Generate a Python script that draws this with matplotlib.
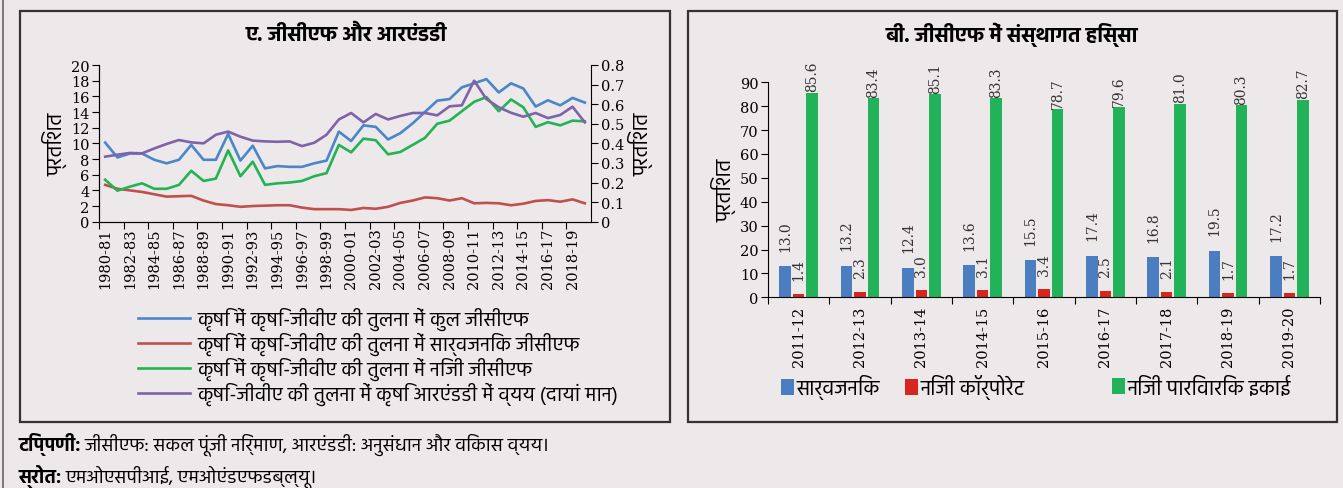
import numpy as np
import matplotlib
matplotlib.use("Agg")
import matplotlib.pyplot as plt
from matplotlib import font_manager, ft2font
from matplotlib.patches import Rectangle
from matplotlib.lines import Line2D

# pick a font that can draw Devanagari
have = set()
for f in font_manager.fontManager.ttflist:
    try:
        if 0x0915 in ft2font.FT2Font(f.fname).get_charmap():
            have.add(f.name)
    except Exception:
        pass
deva = None
for name in ['Hind', 'Mukta', 'Ek Mukta', 'Noto Sans Devanagari', 'Poppins']:
    if name in have:
        deva = name
        break
if deva is None and have:
    deva = sorted(have)[0]
plt.rcParams['font.family'] = [deva, 'DejaVu Sans'] if deva else ['DejaVu Sans']

# ---- data, panel A (share of agri-GVA, per cent) ----
years = [f"{y}-{(y + 1) % 100:02d}" for y in range(1980, 2020)]
total_gcf = [10.1, 8.2, 8.7, 8.7, 7.9, 7.45, 7.9, 9.8, 7.9, 7.9,
             11.2, 7.8, 9.7, 6.8, 7.1, 7.0, 7.0, 7.45, 7.8, 11.5,
             10.3, 12.3, 12.1, 10.5, 11.3, 12.55, 14.0, 15.45, 15.65, 17.15,
             17.66, 18.2, 16.5, 17.66, 17.0, 14.7, 15.5, 14.85, 15.8, 15.2]
public_gcf = [4.7, 4.2, 4.0, 3.8, 3.5, 3.2, 3.25, 3.3, 2.7, 2.25,
              2.1, 1.9, 2.0, 2.05, 2.1, 2.1, 1.8, 1.6, 1.6, 1.6,
              1.5, 1.75, 1.65, 1.9, 2.4, 2.7, 3.1, 3.0, 2.7, 3.0,
              2.35, 2.4, 2.35, 2.1, 2.3, 2.65, 2.75, 2.55, 2.85, 2.35]
private_gcf = [5.36, 3.96, 4.47, 4.9, 4.2, 4.2, 4.7, 6.5, 5.2, 5.5,
               9.1, 5.8, 7.66, 4.7, 4.9, 5.0, 5.2, 5.8, 6.2, 9.8,
               8.85, 10.6, 10.4, 8.6, 8.9, 9.8, 10.7, 12.5, 12.9, 14.1,
               15.3, 15.9, 14.1, 15.6, 14.6, 12.1, 12.7, 12.3, 12.9, 12.8]
rnd = [0.332, 0.342, 0.351, 0.349, 0.374, 0.397, 0.417, 0.405, 0.40, 0.444,
       0.46, 0.434, 0.414, 0.41, 0.408, 0.41, 0.386, 0.403, 0.444, 0.522,
       0.555, 0.507, 0.55, 0.522, 0.54, 0.555, 0.555, 0.543, 0.589, 0.594,
       0.72, 0.626, 0.584, 0.556, 0.536, 0.555, 0.529, 0.545, 0.587, 0.507]
line_names = ["कृषि में कृषि-जीवीए की तुलना में कुल जीसीएफ",
              "कृषि में कृषि-जीवीए की तुलना में सार्वजनिक जीसीएफ",
              "कृषि में कृषि-जीवीए की तुलना में निजी जीसीएफ",
              "कृषि-जीवीए की तुलना में कृषि आरएंडडी में व्यय (दायां मान)"]

# ---- data, panel B (institutional share of GCF, per cent) ----
bar_years = ["2011-12", "2012-13", "2013-14", "2014-15", "2015-16",
             "2016-17", "2017-18", "2018-19", "2019-20"]
public_share = [13.0, 13.2, 12.4, 13.6, 15.5, 17.4, 16.8, 19.5, 17.2]
corporate_share = [1.4, 2.3, 3.0, 3.1, 3.4, 2.5, 2.1, 1.7, 1.7]
household_share = [85.6, 83.4, 85.1, 83.3, 78.7, 79.6, 81.0, 80.3, 82.7]
bar_names = ["सार्वजनिक", "निजी कॉर्पोरेट", "निजी पारिवारिक इकाई"]

bg = '#EDE8EA'
W, H = 1343, 489
num_font = 'DejaVu Serif'


def fx(x):
    return x / W


def fy(y):
    return 1 - y / H


fig = plt.figure(figsize=(W / 100, H / 100), dpi=100, facecolor=bg)
renderer = fig.canvas.get_renderer()


def width_px(s, size, weight='normal'):
    t = fig.text(0, 0, s, fontsize=size, fontweight=weight)
    w = t.get_window_extent(renderer).width
    t.remove()
    return w


# scale all Hindi text so the longest legend entry is as wide as in the reference
k = 414 / width_px(line_names[3], 12)
fs_leg = 12 * k
fs_title = min(12 * 202 / width_px("ए. जीसीएफ और आरएंडडी", 12, 'bold'), 15)
fs_note = fs_leg * 0.95
fs_lab = fs_leg * 1.05

# panel frames
fig.add_artist(Line2D([fx(3), fx(3)], [0, 1], color='#666666', lw=1.2))
fig.add_artist(Rectangle((fx(20), fy(423)), fx(670) - fx(20), fy(12) - fy(423),
                         transform=fig.transFigure, fill=False, ec='#333333', lw=1.6))
fig.add_artist(Rectangle((fx(688), fy(423)), fx(1337) - fx(688), fy(12) - fy(423),
                         transform=fig.transFigure, fill=False, ec='#333333', lw=1.6))

# ---------------- panel A ----------------
ax = fig.add_axes([fx(99), fy(222.7), fx(591) - fx(99), (222.7 - 66) / H])
ax.set_facecolor(bg)
x = np.arange(len(years)) + 0.5
l1, = ax.plot(x, total_gcf, color='#4A86C8', lw=1.9)
l2, = ax.plot(x, public_gcf, color='#C0504D', lw=1.9)
l3, = ax.plot(x, private_gcf, color='#22B355', lw=1.9)
ax.set_xlim(0, len(years))
ax.set_ylim(0, 20)
ax.set_yticks(range(0, 21, 2))
ax.set_xticks(range(0, len(years), 2))
ax.set_xticklabels([])
ax.set_xticks(x[::2], minor=True)
ax.set_xticklabels(years[::2], minor=True, rotation=90, family=num_font, fontsize=10.5)
ax.tick_params(axis='x', which='minor', length=0, pad=4)
ax.tick_params(axis='x', which='major', length=5, direction='out')
ax.tick_params(axis='y', length=5, direction='out', labelsize=10.5, pad=2)
for t in ax.get_yticklabels():
    t.set_family(num_font)
ax.spines['top'].set_visible(False)
ax.spines['right'].set_visible(False)
ax.set_ylabel("प्रतिशत", fontsize=fs_lab, labelpad=2)

ax2 = ax.twinx()
l4, = ax2.plot(x, rnd, color='#7E62AA', lw=1.9)
ax2.set_ylim(0, 0.8)
ax2.set_yticks(np.arange(0, 0.81, 0.1))
ax2.set_yticklabels(['0'] + [f"{v:.1f}" for v in np.arange(0.1, 0.81, 0.1)],
                    family=num_font, fontsize=10.5)
ax2.tick_params(axis='y', length=5, direction='out', pad=2)
ax2.spines['top'].set_visible(False)
ax2.set_ylabel("प्रतिशत", fontsize=fs_lab, labelpad=3)
fig.text(fx(346), fy(35), "ए. जीसीएफ और आरएंडडी", ha='center', va='center',
         fontsize=fs_title, fontweight='bold')

hl = 52 / (fs_leg * 100 / 72)
fig.legend([l1, l2, l3, l4], line_names, loc='upper left',
           bbox_to_anchor=(fx(138), fy(308)), frameon=False, fontsize=fs_leg,
           handlelength=hl, handletextpad=0.35, labelspacing=0.08,
           borderaxespad=0, borderpad=0)

# ---------------- panel B ----------------
bx = fig.add_axes([fx(768), fy(298.3), fx(1320) - fx(768), (298.3 - 83.3) / H])
bx.set_facecolor(bg)
xb = np.arange(len(bar_years))
w = 0.19
b1 = bx.bar(xb - 0.22, public_share, w, color='#4A7EC0')
b2 = bx.bar(xb, corporate_share, w, color='#D7261E')
b3 = bx.bar(xb + 0.22, household_share, w, color='#22B35A')
for bars, vals, off in [(b1, public_share, 11), (b2, corporate_share, 10),
                        (b3, household_share, 1)]:
    for r, v in zip(bars, vals):
        bx.annotate(f"{v:.1f}", (r.get_x() + r.get_width() / 2, r.get_height()),
                    xytext=(0, off), textcoords='offset points', rotation=90,
                    ha='center', va='bottom', fontsize=10, family=num_font,
                    color='#333333', annotation_clip=False)
bx.set_xlim(-0.5, len(bar_years) - 0.5)
bx.set_ylim(0, 90)
bx.set_yticks(range(0, 91, 10))
bx.set_xticks(np.arange(len(bar_years) + 1) - 0.5)
bx.set_xticklabels([])
bx.set_xticks(xb, minor=True)
bx.set_xticklabels(bar_years, minor=True, rotation=90, family=num_font, fontsize=10.5)
bx.tick_params(axis='x', which='minor', length=0, pad=6)
bx.tick_params(axis='x', which='major', length=5, direction='out')
bx.tick_params(axis='y', length=5, direction='out', labelsize=10.5, pad=2)
for t in bx.get_yticklabels():
    t.set_family(num_font)
bx.spines['top'].set_visible(False)
bx.spines['right'].set_visible(False)
bx.set_ylabel("प्रतिशत", fontsize=fs_lab, labelpad=2)
fig.text(fx(1012), fy(35), "बी. जीसीएफ में संस्थागत हिस्सा", ha='center', va='center',
         fontsize=fs_title, fontweight='bold')

# Excel spreads the three entries unevenly, so one small legend per entry
for bar, name, left in zip([b1, b2, b3], bar_names, [781, 905, 1112]):
    fig.legend([bar], [name], loc='center left',
               bbox_to_anchor=(fx(left), fy(388)), frameon=False, fontsize=fs_leg * 1.05,
               handlelength=0.6, handleheight=0.8, handletextpad=0.15,
               borderaxespad=0, borderpad=0)

# ---------------- notes ----------------
for y, head, body in [(445, "टिप्पणी:", "जीसीएफ: सकल पूंजी निर्माण, आरएंडडी: अनुसंधान और विकास व्यय।"),
                      (477, "स्रोत:", "एमओएसपीआई, एमओएंडएफडब्ल्यू।")]:
    t = fig.text(fx(18), fy(y), head, fontsize=fs_note, fontweight='bold', va='center')
    ext = t.get_window_extent(renderer)
    fig.text(fx(ext.x1 + 4), fy(y), body, fontsize=fs_note, va='center')

fig.savefig("out.png", dpi=100, facecolor=bg)
